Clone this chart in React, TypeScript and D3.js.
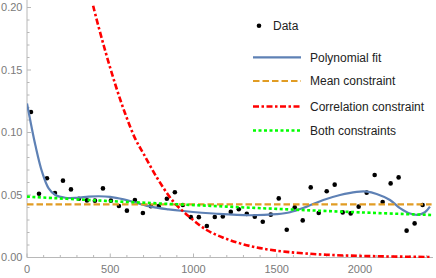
import { useEffect, useRef } from 'react';
import * as d3 from 'd3';

// data points (x, y)
const dataX = [
  24, 72, 120, 168, 216, 264, 312, 360, 408, 456,
  504, 552, 600, 648, 696, 744, 792, 840, 888, 936,
  984, 1032, 1080, 1128, 1176, 1224, 1272, 1320, 1368, 1416,
  1464, 1512, 1560, 1608, 1656, 1704, 1752, 1800, 1848, 1896,
  1944, 1992, 2040, 2088, 2136, 2184, 2232, 2280, 2328, 2376,
];
const dataY = [
  0.1164, 0.051, 0.0634, 0.0516, 0.0615, 0.0545, 0.047, 0.0457, 0.0455, 0.0553,
  0.0455, 0.0412, 0.0375, 0.046, 0.0356, 0.041, 0.0412, 0.047, 0.0522, 0.042,
  0.0323, 0.0323, 0.0252, 0.0324, 0.0328, 0.0365, 0.0386, 0.0349, 0.0327, 0.0286,
  0.0343, 0.0473, 0.0222, 0.0401, 0.0297, 0.0561, 0.0356, 0.053, 0.0583, 0.0361,
  0.0353, 0.0407, 0.0519, 0.066, 0.0444, 0.0593, 0.0641, 0.0215, 0.0273, 0.042,
];

// curves
const polyFit: [number, number][] = [
  [0, 0.1233], [25, 0.106], [50, 0.09], [90, 0.0687], [130, 0.0553], [170, 0.05],
  [230, 0.0478], [300, 0.0478], [370, 0.0487], [430, 0.049], [500, 0.0485],
  [580, 0.0465], [650, 0.044], [750, 0.0405], [850, 0.0385], [940, 0.0372],
  [1140, 0.035], [1340, 0.0338], [1500, 0.0347], [1580, 0.0362], [1680, 0.0407],
  [1780, 0.046], [1880, 0.05], [1980, 0.0525], [2040, 0.0527], [2100, 0.0508],
  [2180, 0.046], [2240, 0.0395], [2300, 0.0352], [2350, 0.0342], [2390, 0.0362],
  [2420, 0.0407],
];
const meanConstraint: [number, number][] = [[0, 0.0425], [2430, 0.0425]];
const corrConstraint: [number, number][] = [
  [380, 0.212], [398, 0.201], [460, 0.17], [529, 0.139], [590, 0.115], [649, 0.0953],
  [700, 0.083], [780, 0.064], [879, 0.0447], [980, 0.032], [1079, 0.022],
  [1180, 0.0158], [1279, 0.0113], [1400, 0.0075], [1560, 0.0045], [1800, 0.0022],
  [2100, 0.001], [2430, 0.0004],
];
const bothConstraints: [number, number][] = [
  [0, 0.0487], [400, 0.0458], [800, 0.0432], [1200, 0.0407], [1600, 0.0383],
  [2000, 0.0361], [2430, 0.034],
];

const xTicks = [0, 500, 1000, 1500, 2000];
const yTicks = [0, 0.05, 0.1, 0.15, 0.2];

const legendItems = [
  { label: 'Polynomial fit', color: '#5E81B5', dash: null, width: 2.2 },
  { label: 'Mean constraint', color: '#E19C24', dash: '6.5,3', width: 2.2 },
  { label: 'Correlation constraint', color: '#FF0000', dash: '6,2.5,2.5,2.5', width: 2.6 },
  { label: 'Both constraints', color: '#00FF00', dash: '3,2.5', width: 2.6 },
];

export default function App() {
  const svgRef = useRef<SVGSVGElement>(null);

  useEffect(() => {
    if (!svgRef.current) return;
    const svg = d3.select(svgRef.current);
    svg.selectAll('*').remove();

    const width = 436;
    const height = 278;
    const font = "'Liberation Sans', Arial, sans-serif";

    const x = d3.scaleLinear().domain([0, 2000]).range([27, 360]);
    const y = d3.scaleLinear().domain([0, 0.2]).range([257.5, 7.5]);

    svg.attr('width', width).attr('height', height).attr('viewBox', `0 0 ${width} ${height}`);

    svg.append('defs').append('clipPath').attr('id', 'plotclip')
      .append('rect').attr('x', 27).attr('y', 5).attr('width', 409).attr('height', 253);

    const axisColor = '#b8b8b8';
    // x axis
    svg.append('line')
      .attr('x1', 27).attr('x2', 433).attr('y1', y(0)).attr('y2', y(0))
      .attr('stroke', axisColor).attr('stroke-width', 1);
    // y axis
    svg.append('line')
      .attr('x1', 27).attr('x2', 27).attr('y1', y(0)).attr('y2', 0)
      .attr('stroke', axisColor).attr('stroke-width', 1);

    // x ticks (minor every 100)
    const xMinor = d3.range(0, 2500, 100);
    svg.selectAll('.xtick').data(xMinor).join('line')
      .attr('x1', d => x(d)).attr('x2', d => x(d))
      .attr('y1', y(0)).attr('y2', d => y(0) - (d % 500 === 0 ? 4 : 2.5))
      .attr('stroke', axisColor).attr('stroke-width', 1);
    const yMinor = d3.range(0, 0.2001, 0.01);
    svg.selectAll('.ytick').data(yMinor).join('line')
      .attr('x1', 27).attr('x2', (d, i) => 27 + (i % 5 === 0 ? 4 : 2.5))
      .attr('y1', d => y(d)).attr('y2', d => y(d))
      .attr('stroke', axisColor).attr('stroke-width', 1);

    svg.selectAll('.xlabel').data(xTicks).join('text')
      .attr('x', d => x(d)).attr('y', 273)
      .attr('text-anchor', 'middle')
      .attr('font-family', font).attr('font-size', 11).attr('fill', '#7a7a7a')
      .text(d => String(d));
    svg.selectAll('.ylabel').data(yTicks).join('text')
      .attr('x', 22.5).attr('y', d => y(d)).attr('dy', '0.35em')
      .attr('text-anchor', 'end')
      .attr('font-family', font).attr('font-size', 11).attr('fill', '#7a7a7a')
      .text(d => d.toFixed(2));

    const plot = svg.append('g').attr('clip-path', 'url(#plotclip)');

    plot.selectAll('circle').data(dataX).join('circle')
      .attr('cx', d => x(d)).attr('cy', (d, i) => y(dataY[i]))
      .attr('r', 2.3).attr('fill', '#000');

    const line = d3.line<[number, number]>()
      .x(d => x(d[0])).y(d => y(d[1]))
      .curve(d3.curveCatmullRom.alpha(0.5));

    const series = [polyFit, meanConstraint, corrConstraint, bothConstraints];
    series.forEach((s, i) => {
      const it = legendItems[i];
      const p = plot.append('path').datum(s)
        .attr('d', line)
        .attr('fill', 'none')
        .attr('stroke', it.color)
        .attr('stroke-width', it.width);
      if (it.dash) p.attr('stroke-dasharray', it.dash);
    });

    // legend
    const lg = svg.append('g');
    lg.append('circle').attr('cx', 259).attr('cy', 25.7).attr('r', 2.3).attr('fill', '#000');
    lg.append('text').attr('x', 273).attr('y', 25.7).attr('dy', '0.35em')
      .attr('font-family', font).attr('font-size', 12).attr('fill', '#222')
      .text('Data');
    const rowsY = [57.3, 81, 106.5, 130.5];
    legendItems.forEach((it, i) => {
      const l = lg.append('line')
        .attr('x1', 253).attr('x2', 301).attr('y1', rowsY[i]).attr('y2', rowsY[i])
        .attr('stroke', it.color).attr('stroke-width', it.width);
      if (it.dash) l.attr('stroke-dasharray', it.dash);
      lg.append('text').attr('x', 310).attr('y', rowsY[i]).attr('dy', '0.35em')
        .attr('font-family', font).attr('font-size', 12).attr('fill', '#222')
        .text(it.label);
    });
  }, []);

  return (
    <svg ref={svgRef} style={{ position: 'absolute', left: 0, top: 0, background: '#fff' }}></svg>
  );
}
